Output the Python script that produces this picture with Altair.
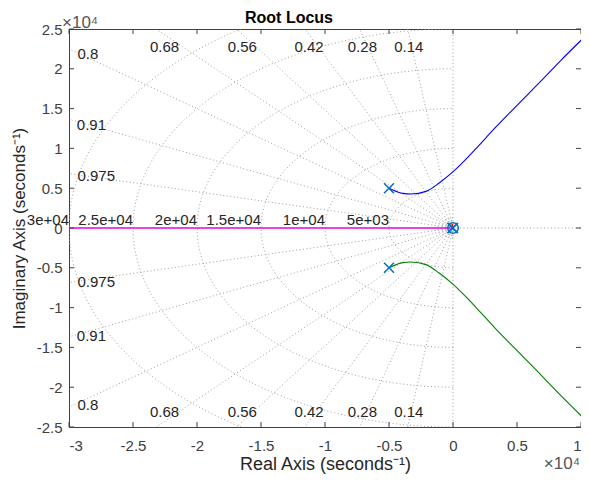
import numpy as np
import pandas as pd
import altair as alt

# ---------------- data (units of 1e4 s^-1) ----------------
xticks = [-3, -2.5, -2, -1.5, -1, -0.5, 0, 0.5, 1]
yticks = [-2.5, -2, -1.5, -1, -0.5, 0, 0.5, 1, 1.5, 2, 2.5]

# upper branch (blue); lower branch (green) is its mirror
blue_x = [-0.5, -0.443, -0.391, -0.327, -0.211, -0.108, 0.003, 0.098, 0.175, 0.33, 0.512, 0.69, 0.845, 1.005]
blue_y = [0.5, 0.46, 0.435, 0.428, 0.46, 0.566, 0.712, 0.86, 0.99, 1.26, 1.56, 1.85, 2.11, 2.365]
green_x = blue_x
green_y = [-v for v in blue_y]
mag_x = [-3.2, 0.0]
mag_y = [0.0, 0.0]
red_x = [0.004, -0.002, -0.006]
red_y = [-0.03, 0.01, 0.05]

pole_x = [-0.5, -0.5, 0.0, -0.004]
pole_y = [0.5, -0.5, 0.0, 0.0]
zero_x = [0.0]
zero_y = [0.0]

# s-plane grid values
zetas = [0.14, 0.28, 0.42, 0.56, 0.68, 0.8, 0.91, 0.975]
wns = [0.5, 1.0, 1.5, 2.0, 2.5, 3.0]
wns_small = [0.045, 0.065, 0.09, 0.12]
wn_labels = ["5e+03", "1e+04", "1.5e+04", "2e+04", "2.5e+04", "3e+04"]

damp_text = ["0.8", "0.68", "0.56", "0.42", "0.28", "0.14", "0.91", "0.975",
             "0.975", "0.91", "0.8", "0.68", "0.56", "0.42", "0.28", "0.14"]
damp_lx = [-2.852, -2.254, -1.646, -1.125, -0.708, -0.345, -2.825, -2.787,
           -2.787, -2.825, -2.852, -2.254, -1.646, -1.125, -0.708, -0.345]
damp_ly = [2.18, 2.272, 2.272, 2.272, 2.272, 2.272, 1.30, 0.649,
           -0.684, -1.355, -2.222, -2.307, -2.307, -2.307, -2.307, -2.307]

# ---------------- build grid geometry ----------------
rows = []
gid = 0
for z in zetas:
    for s in (1, -1):
        R = 5.0
        rows.append(dict(x=0.0, y=0.0, id=gid, o=0))
        rows.append(dict(x=-R * z, y=s * R * np.sqrt(1 - z * z), id=gid, o=1))
        gid += 1
phi = np.linspace(-np.pi / 2, np.pi / 2, 121)
for w in wns + wns_small:
    for i, p in enumerate(phi):
        rows.append(dict(x=-w * np.cos(p), y=w * np.sin(p), id=gid, o=i))
    gid += 1
rows += [dict(x=0.0, y=-2.6, id=gid, o=0), dict(x=0.0, y=2.6, id=gid, o=1)]
gid += 1
rows += [dict(x=0.0, y=0.0, id=gid, o=0), dict(x=1.1, y=0.0, id=gid, o=1)]
grid_df = pd.DataFrame(rows)

W, H = 512, 398
xs = alt.Scale(domain=[-3, 1], nice=False, zero=False)
ys = alt.Scale(domain=[-2.5, 2.5], nice=False, zero=False)
FONT = "Liberation Sans"

xaxis = alt.Axis(values=xticks, labelExpr="toString(datum.value)", title="Real Axis (seconds⁻¹)",
                 labelPadding=11, titleY=42, titleBaseline="alphabetic")
yaxis = alt.Axis(values=yticks, labelExpr="toString(datum.value)", title="Imaginary Axis (seconds⁻¹)",
                 labelPadding=7, titleX=-45, titleY=H / 2, titleAngle=270, titleBaseline="alphabetic",
                 titleFontSize=17)


def X(field="x"):
    return alt.X(field, type="quantitative", scale=xs, axis=xaxis)


def Y(field="y"):
    return alt.Y(field, type="quantitative", scale=ys, axis=yaxis)


grid = alt.Chart(grid_df).mark_line(clip=True, color="#a0a0a0", strokeWidth=1, strokeDash=[1, 2.5]).encode(
    x=X(), y=Y(), detail="id:N", order="o:Q")


def branch(xv, yv, color, width=1.1):
    df = pd.DataFrame({"x": xv, "y": yv, "o": range(len(xv))})
    return alt.Chart(df).mark_line(clip=True, color=color, strokeWidth=width,
                                   interpolate="monotone").encode(x=X(), y=Y(), order="o:Q")


blue = branch(blue_x, blue_y, "#0000ff")
green = branch(green_x, green_y, "#008000")
mag = branch(mag_x, mag_y, "#e600e6", 1.3)
red = branch(red_x, red_y, "#ff0000", 1.5)

poles = alt.Chart(pd.DataFrame({"x": pole_x, "y": pole_y})).mark_point(
    shape="M-1,-1L1,1M-1,1L1,-1", size=100, filled=False, color="#0072BD", strokeWidth=1.5, opacity=1
).encode(x=X(), y=Y())
zeros = alt.Chart(pd.DataFrame({"x": zero_x, "y": zero_y})).mark_point(
    shape="circle", size=110, filled=False, color="#0072BD", strokeWidth=1.5, opacity=1
).encode(x=X(), y=Y())

damp_lbl = alt.Chart(pd.DataFrame({"x": damp_lx, "y": damp_ly, "t": damp_text})).mark_text(
    font=FONT, fontSize=15, color="#262626", align="center", baseline="middle"
).encode(x=X(), y=Y(), text="t:N")

freq_lbl = alt.Chart(pd.DataFrame({"x": [-w for w in wns], "y": [0.0] * len(wns), "t": wn_labels})).mark_text(
    font=FONT, fontSize=15, color="#262626", align="right", baseline="alphabetic", dy=-3
).encode(x=X(), y=Y(), text="t:N")

# inward ticks on all four sides
xt_df = pd.DataFrame({"x": xticks})
yt_df = pd.DataFrame({"y": yticks})
tick_color = "#404040"
t_bottom = alt.Chart(xt_df).mark_rule(color=tick_color).encode(x=X(), y=alt.value(H), y2=alt.value(H - 5))
t_top = alt.Chart(xt_df).mark_rule(color=tick_color).encode(x=X(), y=alt.value(0), y2=alt.value(5))
t_left = alt.Chart(yt_df).mark_rule(color=tick_color).encode(y=Y(), x=alt.value(0), x2=alt.value(5))
t_right = alt.Chart(yt_df).mark_rule(color=tick_color).encode(y=Y(), x=alt.value(W), x2=alt.value(W - 5))

one = pd.DataFrame({"a": [0]})
exp_tl = alt.Chart(one).mark_text(font=FONT, fontSize=17, color="#555555",
                                  align="left", baseline="alphabetic").encode(
    x=alt.value(-7), y=alt.value(-1), text=alt.value("×10⁴"))
exp_br = alt.Chart(one).mark_text(font=FONT, fontSize=17, color="#555555",
                                  align="right", baseline="alphabetic").encode(
    x=alt.value(W - 1), y=alt.value(H + 42), text=alt.value("×10⁴"))
title_txt = alt.Chart(one).mark_text(font=FONT, fontSize=16, fontWeight="bold", color="black",
                                     align="center", baseline="alphabetic").encode(
    x=alt.value(W / 2 - 36), y=alt.value(-6), text=alt.value("Root Locus"))

chart = alt.layer(
    grid, mag, blue, green, red, poles, zeros, damp_lbl, freq_lbl,
    t_bottom, t_top, t_left, t_right, exp_tl, exp_br, title_txt
).properties(
    width=W, height=H,
    autosize=alt.AutoSizeParams(type="none"),
    padding={"left": 61, "top": 21, "right": 0, "bottom": 47},
).configure_axis(
    labelFont=FONT, labelFontSize=15, labelColor="#404040",
    titleFont=FONT, titleFontSize=18, titleFontWeight="normal", titleColor="#262626",
    grid=False, domain=False, ticks=False, tickSize=0,
).configure_view(stroke="#404040", strokeWidth=1)

chart.save("out.html", embed_options={"renderer": "svg", "actions": False})
